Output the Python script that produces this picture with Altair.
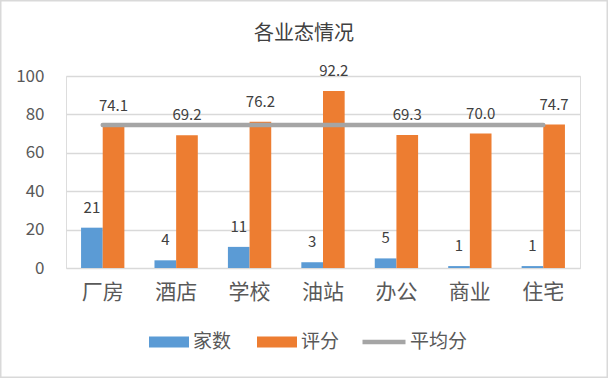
import altair as alt
import pandas as pd

categories = ["厂房", "酒店", "学校", "油站", "办公", "商业", "住宅"]
counts = [21, 4, 11, 3, 5, 1, 1]
scores = [74.1, 69.2, 76.2, 92.2, 69.3, 70.0, 74.7]
avg_score = [74.5, 74.5, 74.5, 74.5, 74.5, 74.5, 74.5]
series_names = ["家数", "评分"]
avg_name = "平均分"
bar_colors = ["#5B9BD5", "#ED7D31"]
line_color = "#A5A5A5"
y_ticks = [0, 20, 40, 60, 80, 100]

rows = []
for c, n, s in zip(categories, counts, scores):
    rows.append({"cat": c, "series": "家数", "value": n, "label": str(n)})
    rows.append({"cat": c, "series": "评分", "value": s, "label": f"{s:.1f}"})
bars_df = pd.DataFrame(rows)
avg_df = pd.DataFrame({"cat": categories, "value": avg_score, "series": [avg_name] * len(categories)})

FONT = "Noto Sans CJK SC"
TXT = "#595959"

x_scale = alt.Scale(paddingInner=0.41, paddingOuter=0.205)
x_axis = alt.Axis(title=None, labelAngle=0, labelFontSize=21, labelColor=TXT, labelFont=FONT,
                  labelPadding=13, ticks=False, domain=False, grid=False)
y_scale = alt.Scale(domain=[0, 100])
y_axis = alt.Axis(title=None, values=y_ticks, labelFontSize=17, labelColor=TXT, labelFont=FONT,
                  labelPadding=22, labelOverlap=False, ticks=False, domain=False,
                  gridColor="#D9D9D9", gridWidth=1.3)


def xe(**kw):
    return alt.X("cat:N", sort=categories, scale=x_scale, axis=x_axis, **kw)


def ye():
    return alt.Y("value:Q", scale=y_scale, axis=y_axis)


xoff = alt.XOffset("series:N", sort=series_names, scale=alt.Scale(paddingInner=0, paddingOuter=0))

bars = alt.Chart(bars_df).mark_bar().encode(
    x=xe(), xOffset=xoff, y=ye(),
    fill=alt.Fill("series:N", sort=series_names,
                  scale=alt.Scale(domain=series_names, range=bar_colors),
                  legend=alt.Legend(title=None, orient="none", legendX=83, legendY=246,
                                    direction="horizontal", symbolType="M-1,-0.27H1V0.27H-1Z",
                                    symbolSize=1600, symbolStrokeWidth=0, labelFontSize=19,
                                    labelColor=TXT, labelFont=FONT, labelOffset=4,
                                    columnPadding=25, padding=0)),
)

line = alt.Chart(avg_df).mark_line(strokeWidth=4.5, strokeCap="round").encode(
    x=xe(bandPosition=0.5),
    y=ye(),
    stroke=alt.Stroke("series:N", scale=alt.Scale(domain=[avg_name], range=[line_color]),
                      legend=alt.Legend(title=None, orient="none", legendX=294, legendY=242,
                                        direction="horizontal", symbolType="stroke",
                                        symbolSize=1849, symbolStrokeWidth=4.5, labelFontSize=19,
                                        labelColor=TXT, labelFont=FONT, labelOffset=2, padding=0)),
)

labels = alt.Chart(bars_df).mark_text(baseline="middle", dy=-20, fontSize=15, color="#404040", font=FONT).encode(
    x=xe(), xOffset=xoff, y=ye(), text="label:N",
)

border = alt.Chart(pd.DataFrame({"a": [0]})).mark_rect(fill=None, stroke="#D9D9D9", strokeWidth=1.5).encode(
    x=alt.value(-65.25), x2=alt.value(541.25), y=alt.value(-75.25), y2=alt.value(301.25),
)

chart = alt.layer(bars, line, labels, border).properties(
    width=514, height=192,
    title=alt.TitleParams("各业态情况", fontSize=20, font=FONT, color="#404040", fontWeight="normal",
                          anchor="middle", dx=-19, offset=0, dy=44),
    autosize=alt.AutoSizeParams(type="none"),
    padding={"left": 66, "top": 76, "right": 28, "bottom": 110},
).configure_view(stroke=None).configure(background="white")

chart.save("out.html", embed_options={"renderer": "svg", "actions": False})
